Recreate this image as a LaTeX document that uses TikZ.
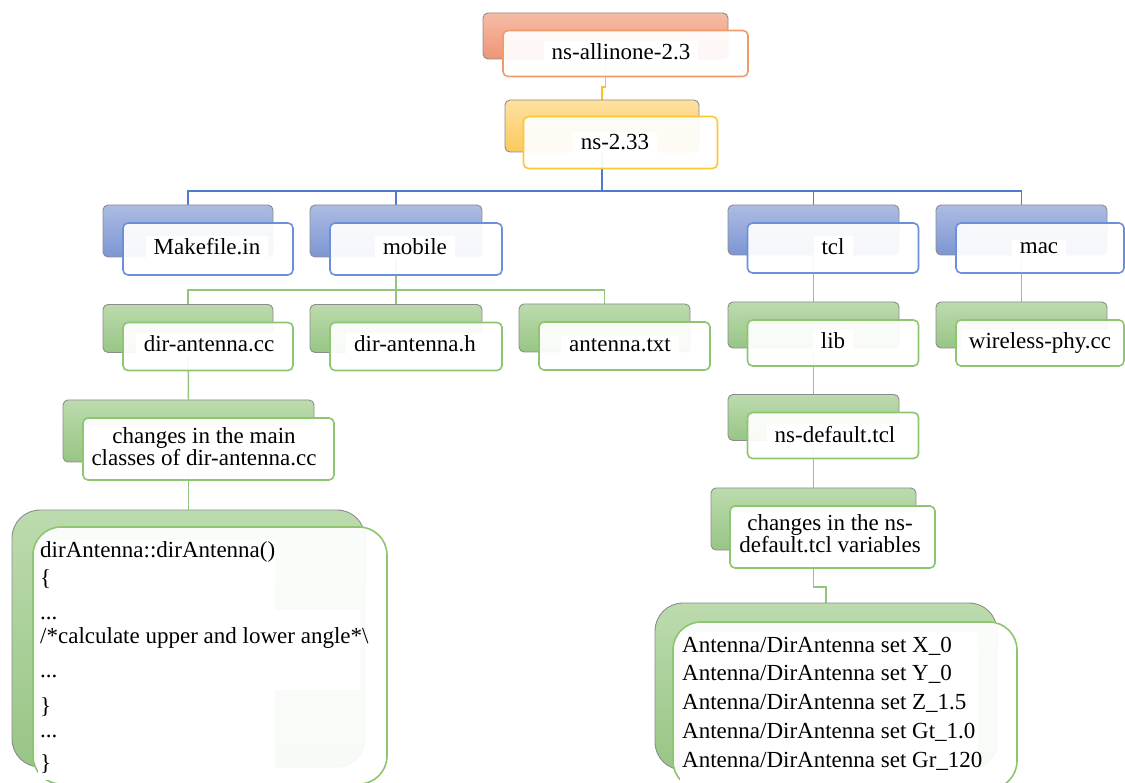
\documentclass[tikz,border=0pt]{standalone}
\usepackage{fontspec}
\setmainfont{Liberation Serif}
\pgfdeclarelayer{links}
\pgfsetlayers{links,main}

\definecolor{orgTop}{HTML}{F6BCA6}\definecolor{orgBot}{HTML}{EE9576}\definecolor{orgLine}{HTML}{F39A6B}
\definecolor{yelTop}{HTML}{FEE1A0}\definecolor{yelBot}{HTML}{FCC95E}\definecolor{yelLine}{HTML}{FDC72F}
\definecolor{bluTop}{HTML}{ACBCE3}\definecolor{bluBot}{HTML}{7D95D3}\definecolor{bluLine}{HTML}{6A90DA}
\definecolor{grnTop}{HTML}{BCDBAE}\definecolor{grnBot}{HTML}{98C585}\definecolor{grnLine}{HTML}{8EC571}
\definecolor{bluWire}{HTML}{4E7BCB}\definecolor{grnWire}{HTML}{93C67D}\definecolor{yelWire}{HTML}{FCC22E}

\tikzset{
  back/.style={rectangle, rounded corners=5pt, draw=black!45, line width=0.9pt, inner sep=0pt},
  front/.style={rectangle, rounded corners=5pt, line width=1.6pt, fill=white, fill opacity=0.93, inner sep=0pt},
  orgback/.style={back, top color=orgTop, bottom color=orgBot},
  yelback/.style={back, top color=yelTop, bottom color=yelBot},
  bluback/.style={back, top color=bluTop, bottom color=bluBot},
  grnback/.style={back, top color=grnTop, bottom color=grnBot},
  orgfront/.style={front, draw=orgLine},
  yelfront/.style={front, draw=yelLine},
  blufront/.style={front, draw=bluLine},
  grnfront/.style={front, draw=grnLine},
  txt/.style={fill=white, inner xsep=8pt, inner ysep=3pt, font=\fontsize{23}{22}\selectfont},
  codeline/.style={inner sep=0pt, font=\fontsize{23}{28}\selectfont},
  wire/.style={line width=1.5pt},
  bluwire/.style={wire, draw=bluWire},
  grnwire/.style={wire, draw=grnWire},
  yelwire/.style={wire, draw=yelWire},
  bigbox/.style={rounded corners=28pt}
}

\begin{document}
\begin{tikzpicture}[x=1pt, y=-1pt]
\useasboundingbox (0,0) rectangle (1125,783);

% ---- root folders
\node[orgback, minimum width=245pt, minimum height=46pt] (allB) at (605.5,36) {};
\node[orgfront, minimum width=245pt, minimum height=46pt] (allF) at (625.5,53.5) {};
\node[txt, anchor=base] (allT) at (621,60) {ns-allinone-2.3};

\node[yelback, minimum width=194pt, minimum height=52pt] (nsB) at (602,126) {};
\node[yelfront, minimum width=194pt, minimum height=52pt] (nsF) at (620.5,142.5) {};
\node[txt, anchor=base] (nsT) at (615,150) {ns-2.33};

% ---- first level
\node[bluback, minimum width=170pt, minimum height=52pt] (makeB) at (188,231) {};
\node[blufront, minimum width=170pt, minimum height=52pt] (makeF) at (208,249) {};
\node[txt, anchor=base] (makeT) at (207,255) {Makefile.in};

\node[bluback, minimum width=172pt, minimum height=52pt] (mobB) at (396,231) {};
\node[blufront, minimum width=172pt, minimum height=52pt] (mobF) at (416,249) {};
\node[txt, anchor=base] (mobT) at (415,255) {mobile};

\node[bluback, minimum width=171pt, minimum height=50pt] (tclB) at (813.5,230) {};
\node[blufront, minimum width=171pt, minimum height=50pt] (tclF) at (833,248) {};
\node[txt, anchor=base] (tclT) at (833,255) {tcl};

\node[bluback, minimum width=171pt, minimum height=50pt] (macB) at (1021.5,230) {};
\node[blufront, minimum width=168pt, minimum height=50pt] (macF) at (1040,248) {};
\node[txt, anchor=base] (macT) at (1039,254) {mac};

% ---- second level
\node[grnback, minimum width=170pt, minimum height=48pt] (dccB) at (188,328.5) {};
\node[grnfront, minimum width=170pt, minimum height=48pt] (dccF) at (208,346.5) {};
\node[txt, anchor=base] (dccT) at (209,352) {dir-antenna.cc};

\node[grnback, minimum width=172pt, minimum height=48pt] (dhB) at (396,328.5) {};
\node[grnfront, minimum width=172pt, minimum height=48pt] (dhF) at (416,346.5) {};
\node[txt, anchor=base] (dhT) at (415,352) {dir-antenna.h};

\node[grnback, minimum width=171pt, minimum height=48pt] (atxtB) at (604.5,328) {};
\node[grnfront, minimum width=171pt, minimum height=48pt] (atxtF) at (624.5,346) {};
\node[txt, anchor=base] (atxtT) at (620,352) {antenna.txt};

\node[grnback, minimum width=171pt, minimum height=46pt] (libB) at (813.5,325) {};
\node[grnfront, minimum width=171pt, minimum height=46pt] (libF) at (833,343) {};
\node[txt, anchor=base] (libT) at (833,349) {lib};

\node[grnback, minimum width=171pt, minimum height=46pt] (wpB) at (1021.5,325) {};
\node[grnfront, minimum width=168pt, minimum height=46pt] (wpF) at (1040,343) {};
\node[txt, anchor=base] (wpT) at (1040,349) {wireless-phy.cc};

% ---- deeper levels
\node[grnback, minimum width=171pt, minimum height=46pt] (nsdB) at (813.5,417.5) {};
\node[grnfront, minimum width=171pt, minimum height=46pt] (nsdF) at (833,435.5) {};
\node[txt, anchor=base] (nsdT) at (835,443) {ns-default.tcl};

\node[grnback, minimum width=251pt, minimum height=62pt] (chgB) at (188.5,431) {};
\node[grnfront, minimum width=251pt, minimum height=62pt] (chgF) at (208.5,449) {};
\node[txt, align=center] (chgT) at (204,447) {changes in the main\\classes of dir-antenna.cc};

\node[grnback, minimum width=205pt, minimum height=62pt] (nchgB) at (813.5,519) {};
\node[grnfront, minimum width=205pt, minimum height=62pt] (nchgF) at (832.5,537) {};
\node[txt, align=center] (nchgT) at (830,534) {changes in the ns-\\default.tcl variables};

% ---- code listing
\node[grnback, bigbox, minimum width=353pt, minimum height=257pt] (codeB) at (188.5,638.5) {};
\node[grnfront, bigbox, minimum width=354pt, minimum height=257pt] (codeF) at (210,655.5) {};
\fill[white] (38,540) rectangle (275,610);
\fill[white] (38,610) rectangle (360,690);
\fill[white] (38,690) rectangle (275,780);
\node[codeline, anchor=base west] (c1) at (40,557) {dirAntenna::dirAntenna()};
\node[codeline, anchor=base west] (c2) at (40,585) {\{};
\node[codeline, anchor=base west] (c3) at (40,619) {...};
\node[codeline, anchor=base west] (c4) at (40,643) {/*calculate upper and lower angle*\textbackslash};
\node[codeline, anchor=base west] (c5) at (40,677) {...};
\node[codeline, anchor=base west] (c6) at (40,713) {\}};
\node[codeline, anchor=base west] (c7) at (40,737) {...};
\node[codeline, anchor=base west] (c8) at (40,770) {\}};

% ---- variable settings
\node[grnback, bigbox, minimum width=342pt, minimum height=167pt] (antB) at (826,686.5) {};
\node[grnfront, bigbox, minimum width=344pt, minimum height=167pt] (antF) at (845,705.5) {};
\fill[white] (680,632) rectangle (978,783);
\node[codeline, anchor=base west] (a1) at (682,652) {Antenna/DirAntenna set X\_0};
\node[codeline, anchor=base west] (a2) at (682,680.5) {Antenna/DirAntenna set Y\_0};
\node[codeline, anchor=base west] (a3) at (682,709) {Antenna/DirAntenna set Z\_1.5};
\node[codeline, anchor=base west] (a4) at (682,738) {Antenna/DirAntenna set Gt\_1.0};
\node[codeline, anchor=base west] (a5) at (682,767) {Antenna/DirAntenna set Gr\_120};

% ---- connectors, drawn underneath the boxes
\begin{pgfonlayer}{links}
  \draw[yelwire] (allB.center) |- (nsB.north |- 0,87) -- (nsB.north);
  \draw[bluwire] (nsB.center) -- (nsB.center |- 0,191);
  \draw[bluwire] (makeB.north) |- (macB.north |- 0,191) -- (macB.north);
  \draw[bluwire] (mobB.north) -- (mobB.north |- 0,191);
  \draw[bluwire] (tclB.north) -- (tclB.north |- 0,191);
  \draw[grnwire] (mobB.center) -- (dhB.north);
  \draw[grnwire] (dccB.north) |- (atxtB.north |- 0,290) -- (atxtB.north);
  \draw[grnwire] (dccB.center) -- (chgB.north);
  \draw[grnwire] (chgB.center) -- (codeB.north);
  \draw[grnwire] (tclB.center) -- (libB.north);
  \draw[grnwire] (libB.center) -- (nsdB.north);
  \draw[grnwire] (nsdB.center) -- (nchgB.north);
  \draw[grnwire] (nchgB.center) |- (antB.north |- 0,587) -- (antB.north);
  \draw[grnwire] (macB.center) -- (wpB.north);
\end{pgfonlayer}
\end{tikzpicture}
\end{document}
